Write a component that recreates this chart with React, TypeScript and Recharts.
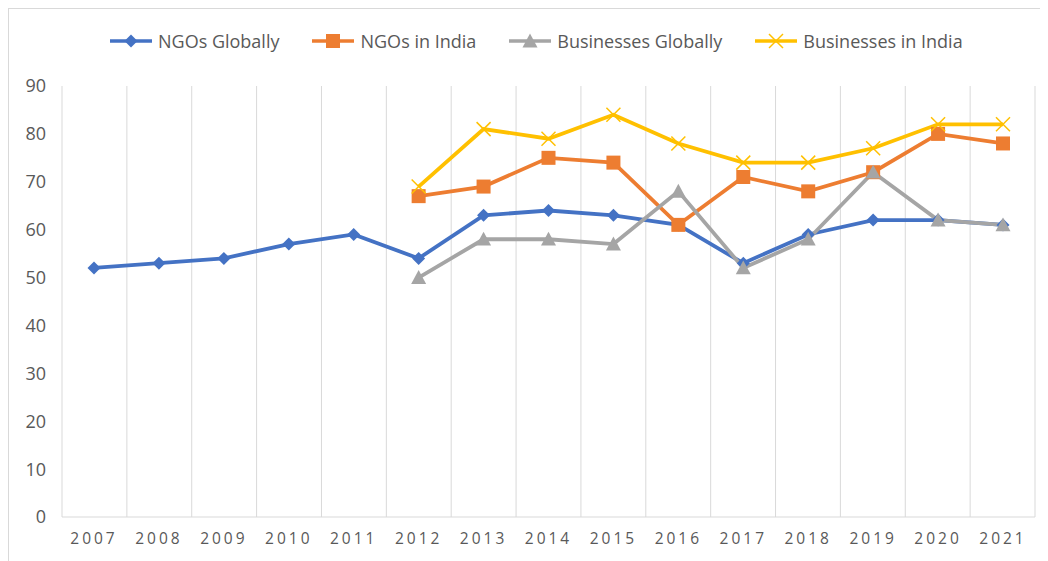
import React from "react"
import { LineChart, Line, XAxis, YAxis, CartesianGrid, Legend } from "recharts"

const years = ["2007", "2008", "2009", "2010", "2011", "2012", "2013", "2014", "2015", "2016", "2017", "2018", "2019", "2020", "2021"]
const ngosGlobally = [52, 53, 54, 57, 59, 54, 63, 64, 63, 61, 53, 59, 62, 62, 61]
const ngosIndia = [null, null, null, null, null, 67, 69, 75, 74, 61, 71, 68, 72, 80, 78]
const businessesGlobally = [null, null, null, null, null, 50, 58, 58, 57, 68, 52, 58, 72, 62, 61]
const businessesIndia = [null, null, null, null, null, 69, 81, 79, 84, 78, 74, 74, 77, 82, 82]
const yTicks = [0, 10, 20, 30, 40, 50, 60, 70, 80, 90]

const series = [
  { key: "ngosGlobally", name: "NGOs Globally", color: "#4472C4", marker: "diamond" },
  { key: "ngosIndia", name: "NGOs in India", color: "#ED7D31", marker: "square" },
  { key: "businessesGlobally", name: "Businesses Globally", color: "#A5A5A5", marker: "triangle" },
  { key: "businessesIndia", name: "Businesses in India", color: "#FFC000", marker: "x" },
]

const data = years.map((year, i) => ({
  year,
  ngosGlobally: ngosGlobally[i],
  ngosIndia: ngosIndia[i],
  businessesGlobally: businessesGlobally[i],
  businessesIndia: businessesIndia[i],
}))

const FONT = "'Open Sans', sans-serif"
const TEXT = "#595959"

function Marker({ type, color, cx, cy }: { type: string; color: string; cx: number; cy: number }) {
  if (type === "diamond") {
    const r = 6.5
    return <polygon points={`${cx},${cy - r} ${cx + r},${cy} ${cx},${cy + r} ${cx - r},${cy}`} fill={color} />
  }
  if (type === "square") {
    const r = 7
    return <rect x={cx - r} y={cy - r} width={r * 2} height={r * 2} fill={color} />
  }
  if (type === "triangle") {
    const r = 7.5
    return <polygon points={`${cx},${cy - r} ${cx + r},${cy + r * 0.85} ${cx - r},${cy + r * 0.85}`} fill={color} />
  }
  const r = 7
  return (
    <g stroke={color} strokeWidth={1.5}>
      <line x1={cx - r} y1={cy - r} x2={cx + r} y2={cy + r} />
      <line x1={cx - r} y1={cy + r} x2={cx + r} y2={cy - r} />
    </g>
  )
}

function makeDot(type: string, color: string) {
  return (props: any) => {
    const { cx, cy, value, index } = props
    if (value == null || cx == null || cy == null) return <g key={`e-${index}`} />
    return (
      <g key={`d-${index}`}>
        <Marker type={type} color={color} cx={cx} cy={cy} />
      </g>
    )
  }
}

function LegendContent() {
  return (
    <div style={{ display: "flex", alignItems: "center", paddingLeft: 101, height: 24, fontFamily: FONT, fontSize: 18, color: TEXT }}>
      {series.map((s, i) => (
        <div key={s.key} style={{ display: "flex", alignItems: "center", marginRight: i < series.length - 1 ? 33 : 0 }}>
          <svg width={42} height={16}>
            <line x1={0} y1={8} x2={42} y2={8} stroke={s.color} strokeWidth={3.5} />
            <Marker type={s.marker} color={s.color} cx={21} cy={8} />
          </svg>
          <span style={{ marginLeft: 6, whiteSpace: "nowrap" }}>{s.name}</span>
        </div>
      ))}
    </div>
  )
}

export default function App() {
  return (
    <div style={{ width: 1048, height: 561, border: "1px solid #d9d9d9", position: "relative" }}>
      <LineChart width={1039} height={552} data={data} margin={{ top: 53, right: 13, bottom: 14, left: 0 }}>
        <CartesianGrid
          horizontal={false}
          stroke="#d9d9d9"
          verticalCoordinatesGenerator={(props: any) => {
            const off = props.offset
            return Array.from({ length: years.length + 1 }, (_, i) => off.left + (i * off.width) / years.length)
          }}
        />
        <XAxis
          dataKey="year"
          padding={{ left: 32, right: 32 }}
          axisLine={{ stroke: "#d9d9d9" }}
          tickLine={false}
          interval={0}
          height={30}
          tick={{ fill: TEXT, fontSize: 15.5, fontFamily: FONT, letterSpacing: 3 }}
          dy={8}
        />
        <YAxis
          domain={[0, 90]}
          ticks={yTicks}
          width={53}
          axisLine={false}
          tickLine={false}
          tick={{ fill: TEXT, fontSize: 18, fontFamily: FONT }}
          dx={-8}
        />
        <Legend verticalAlign="top" content={<LegendContent />} wrapperStyle={{ top: 20, left: 0, width: 1039 }} />
        {series.map((s) => (
          <Line
            key={s.key}
            dataKey={s.key}
            name={s.name}
            stroke={s.color}
            strokeWidth={3.8}
            dot={makeDot(s.marker, s.color)}
            activeDot={false}
            isAnimationActive={false}
          />
        ))}
      </LineChart>
    </div>
  )
}
